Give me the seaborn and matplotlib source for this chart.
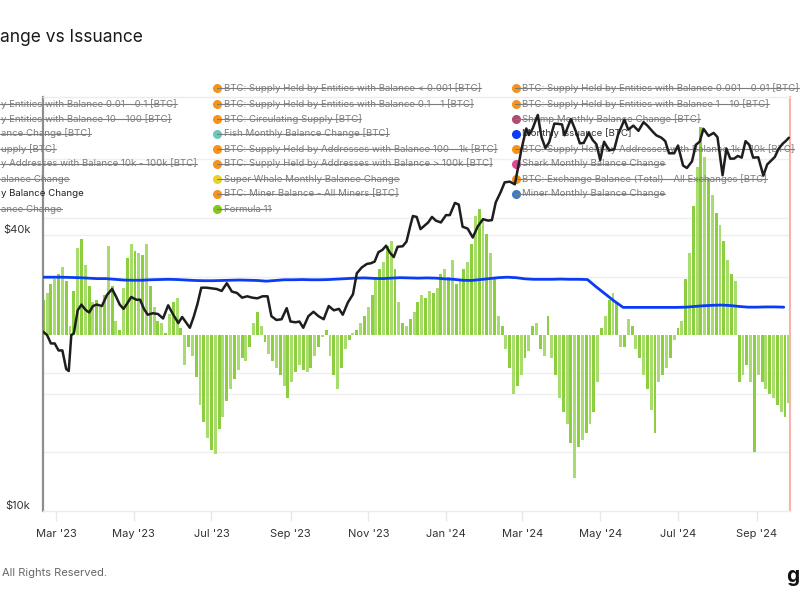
import numpy as np
import pandas as pd
import matplotlib
matplotlib.use("Agg")
import matplotlib.pyplot as plt
from matplotlib.lines import Line2D
from matplotlib.transforms import blended_transform_factory
import seaborn as sns

sns.set_theme(style="white")
plt.rcParams["font.family"] = ["Inter", "DejaVu Sans"]

# ---------------- data ----------------
price_dates = [
    "2023-02-19", "2023-02-22", "2023-02-25", "2023-02-28", "2023-03-03", "2023-03-06", "2023-03-09",
    "2023-03-11", "2023-03-13", "2023-03-15", "2023-03-18", "2023-03-21", "2023-03-24", "2023-03-27",
    "2023-03-30", "2023-04-02", "2023-04-06", "2023-04-10", "2023-04-14", "2023-04-17", "2023-04-20",
    "2023-04-23", "2023-04-26", "2023-04-29", "2023-05-03", "2023-05-06", "2023-05-09", "2023-05-12",
    "2023-05-16", "2023-05-20", "2023-05-24", "2023-05-28", "2023-06-01", "2023-06-05", "2023-06-08",
    "2023-06-11", "2023-06-14", "2023-06-17", "2023-06-20", "2023-06-23", "2023-06-27", "2023-07-01",
    "2023-07-05", "2023-07-09", "2023-07-13", "2023-07-17", "2023-07-21", "2023-07-25", "2023-07-29",
    "2023-08-02", "2023-08-06", "2023-08-10", "2023-08-14", "2023-08-17", "2023-08-21", "2023-08-25",
    "2023-08-29", "2023-09-01", "2023-09-05", "2023-09-08", "2023-09-11", "2023-09-15", "2023-09-19",
    "2023-09-23", "2023-09-27", "2023-10-01", "2023-10-05", "2023-10-09", "2023-10-12", "2023-10-16",
    "2023-10-20", "2023-10-23", "2023-10-27", "2023-10-31", "2023-11-03", "2023-11-06", "2023-11-09",
    "2023-11-12", "2023-11-15", "2023-11-18", "2023-11-21", "2023-11-24", "2023-11-28", "2023-12-01",
    "2023-12-04", "2023-12-06", "2023-12-09", "2023-12-12", "2023-12-15", "2023-12-18", "2023-12-21",
    "2023-12-24", "2023-12-28", "2024-01-01", "2024-01-04", "2024-01-08", "2024-01-11", "2024-01-14",
    "2024-01-18", "2024-01-22", "2024-01-26", "2024-01-30", "2024-02-03", "2024-02-06", "2024-02-09",
    "2024-02-13", "2024-02-16", "2024-02-20", "2024-02-24", "2024-02-27", "2024-02-29", "2024-03-04",
    "2024-03-06", "2024-03-09", "2024-03-13", "2024-03-16", "2024-03-19", "2024-03-22", "2024-03-26",
    "2024-03-29", "2024-04-01", "2024-04-03", "2024-04-08", "2024-04-12", "2024-04-15", "2024-04-18",
    "2024-04-22", "2024-04-25", "2024-04-28", "2024-05-01", "2024-05-04", "2024-05-08", "2024-05-12",
    "2024-05-15", "2024-05-20", "2024-05-23", "2024-05-27", "2024-05-31", "2024-06-04", "2024-06-07",
    "2024-06-11", "2024-06-14", "2024-06-18", "2024-06-21", "2024-06-24", "2024-06-28", "2024-07-01",
    "2024-07-05", "2024-07-08", "2024-07-12", "2024-07-15", "2024-07-18", "2024-07-21", "2024-07-25",
    "2024-07-29", "2024-08-01", "2024-08-05", "2024-08-08", "2024-08-11", "2024-08-14", "2024-08-17",
    "2024-08-20", "2024-08-23", "2024-08-26", "2024-08-29", "2024-09-02", "2024-09-06", "2024-09-09",
    "2024-09-12", "2024-09-15", "2024-09-18", "2024-09-21", "2024-09-24", "2024-09-26",
]
price_k = [
    24.6, 24.2, 23.2, 23.2, 22.4, 22.4, 20.4,
    20.2, 24.2, 24.4, 27.4, 28.2, 27.5, 27.1,
    28.0, 28.2, 28.0, 29.6, 30.5, 29.4, 28.2,
    27.6, 28.4, 29.3, 28.9, 28.9, 27.6, 26.8,
    27.0, 26.9, 26.3, 28.1, 26.8, 25.7, 26.5,
    25.8, 25.1, 26.5, 28.3, 30.7, 30.7, 30.6,
    30.5, 30.2, 31.4, 30.1, 29.9, 29.2, 29.4,
    29.2, 29.1, 29.4, 29.4, 26.6, 26.1, 26.2,
    27.7, 25.9, 25.8, 25.9, 25.1, 26.6, 27.2,
    26.6, 26.2, 28.0, 27.4, 27.6, 26.8, 28.5,
    29.7, 33.0, 34.0, 34.6, 34.7, 35.0, 36.7,
    37.1, 37.9, 36.6, 35.8, 37.7, 37.8, 38.7,
    41.9, 44.0, 43.8, 41.2, 41.9, 42.6, 43.8,
    43.0, 42.6, 44.2, 44.2, 47.0, 46.6, 41.7,
    41.3, 39.5, 41.8, 43.3, 43.0, 43.1, 47.1,
    49.7, 52.1, 52.3, 51.6, 57.0, 61.2, 68.3,
    66.1, 68.3, 73.1, 65.3, 61.9, 63.8, 70.0,
    69.9, 69.7, 66.0, 71.6, 67.2, 63.4, 63.5,
    66.8, 64.5, 63.1, 58.3, 63.9, 61.2, 61.5,
    66.2, 71.4, 67.9, 69.3, 67.5, 70.5, 69.3,
    67.3, 66.0, 65.2, 64.1, 60.3, 60.3, 62.7,
    56.7, 56.0, 57.9, 62.9, 63.9, 68.2, 65.8,
    66.8, 65.4, 54.0, 61.7, 58.7, 58.7, 59.5,
    59.0, 64.1, 62.9, 59.0, 59.1, 53.9, 57.0,
    58.1, 59.2, 61.7, 63.2, 64.3, 65.2,
]

# Monthly issuance (k BTC), one reading per week starting 2023-02-19
issue_start = "2023-02-19"
issue_k = [
    24.7, 24.7, 24.7, 24.6, 24.5, 24.3, 24.1, 24.1, 23.8, 23.5,
    23.4, 23.4, 23.6, 23.7, 23.8, 23.7, 23.5, 23.3, 23.2, 23.2,
    23.3, 23.4, 23.5, 23.4, 23.3, 23.0, 23.3, 23.6, 23.6, 23.7,
    23.6, 23.6, 23.7, 23.9, 24.1, 24.3, 24.4, 24.2, 24.1, 24.3,
    24.5, 24.4, 24.3, 24.4, 24.3, 24.0, 23.8, 23.4, 23.3, 23.7,
    24.1, 24.5, 24.7, 24.5, 24.0, 23.8, 23.8, 23.8, 23.9, 23.8,
    23.8, 23.7, 20.5, 17.5, 14.5, 11.8, 11.8, 11.8, 11.8, 11.8,
    11.8, 11.8, 11.9, 12.2, 12.5, 12.7, 12.8, 12.6, 12.2, 11.9,
    11.9, 12.0, 12.0, 11.9,
]

# Whale monthly balance change (k BTC), one bar every 3 days from 2023-02-19
bar_start = "2023-02-19"
whale_change_k = [
    15, 18, 22, 24, 26, 29, 23, 4, 19, 37, 41, 30, 21, 14, 15, 12, 17, 38, 21, 6,
    2, 20, 33, 39, 36, 35, 34, 39, 21, 12, 6, 5, 1, 9, 14, 16, 3, -13, -5, -9,
    -18, -30, -37, -44, -49, -51, -40, -35, -28, -23, -19, -15,
    -10, -11, -5, 5, 10, 4, -3, -8, -11, -14, -17, -22, -27, -20, -16, -13, -15, -16,
    -14, -9, -5, -1, 2, -9, -17, -23, -14, -6, -2, 1, 2, 5, 8, 12, 17, 25, 28, 31,
    38, 40, 28, 14, 5, 4, 7, 10, 14, 17, 16, 19, 18, 20,
    26, 28, 25, 32, 22, 24, 28, 31, 39, 51, 54, 50, 43, 35, 25, 8, 4, -6, -14, -25,
    -22, -17, -10, -7, 4, 5, -6, -9, 8, -10, -17, -27, -33, -38, -46, -61, -48, -45, -42, -38,
    -33, -20, 3, 8, 15, 18, 14, -5, -5, 7, 4, -6,
    -10, -17, -23, -32, -42, -20, -17, -14, -10, -2, 3, 6, 24, 35, 55, 72, 89, 76, 67, 60,
    52, 47, 40, 32, 26, 23, -20, -17, -13, -20, -50, -17, -20, -23, -25, -27, -30, -33, -35, -29,
]

x_tick_dates = ["2023-03-01", "2023-05-01", "2023-07-01", "2023-09-01", "2023-11-01",
                "2024-01-01", "2024-03-01", "2024-05-01", "2024-07-01", "2024-09-01"]
x_tick_labels = ["Mar '23", "May '23", "Jul '23", "Sep '23", "Nov '23",
                 "Jan '24", "Mar '24", "May '24", "Jul '24", "Sep '24"]
price_grid = [20000, 40000]
price_labels = {10000: "$10k", 40000: "$40k"}
btc_grid = [-50, -25, 25, 50, 75]

ORANGE = "#f7931a"
legend_col1 = [
    ("y Entities with Balance 0.01 - 0.1 [BTC]", True),
    ("y Entities with Balance 10 - 100 [BTC]", True),
    ("ance Change [BTC]", True),
    ("upply [BTC]", True),
    ("y Addresses with Balance 10k - 100k [BTC]", True),
    ("alance Change", True),
    ("y Balance Change", False),
    ("ance Change", True),
]
legend_col2 = [
    ("BTC: Supply Held by Entities with Balance < 0.001 [BTC]", ORANGE, True),
    ("BTC: Supply Held by Entities with Balance 0.1 - 1 [BTC]", ORANGE, True),
    ("BTC: Circulating Supply [BTC]", ORANGE, True),
    ("Fish Monthly Balance Change [BTC]", "#6cc8c2", True),
    ("BTC: Supply Held by Addresses with Balance 100 - 1k [BTC]", ORANGE, True),
    ("BTC: Supply Held by Addresses with Balance > 100k [BTC]", ORANGE, True),
    ("Super Whale Monthly Balance Change", "#e8d22a", True),
    ("BTC: Miner Balance - All Miners [BTC]", ORANGE, True),
    ("Formula 11", "#84c521", True),
]
legend_col3 = [
    ("BTC: Supply Held by Entities with Balance 0.001 - 0.01 [BTC]", ORANGE, True),
    ("BTC: Supply Held by Entities with Balance 1 - 10 [BTC]", ORANGE, True),
    ("Shrimp Monthly Balance Change [BTC]", "#b04a72", True),
    ("Monthly Issuance [BTC]", "#0a3cf5", False),
    ("BTC: Supply Held by Addresses with Balance 1k - 10k [BTC]", ORANGE, True),
    ("Shark Monthly Balance Change", "#e2449a", True),
    ("BTC: Exchange Balance (Total) - All Exchanges [BTC]", ORANGE, True),
    ("Miner Monthly Balance Change", "#3f7bc6", True),
]

# ---------------- figure ----------------
W, H = 800, 600
fig = plt.figure(figsize=(8, 6), dpi=100)
fig.patch.set_facecolor("white")
L, R, T, B = 43, 790, 97, 511
axb = fig.add_axes([L / W, 1 - B / H, (R - L) / W, (B - T) / H])
axp = axb.twinx()

bar_dates = pd.date_range(bar_start, periods=len(whale_change_k), freq="3D")
issue_dates = pd.date_range(issue_start, periods=len(issue_k), freq="7D")
pdates = pd.to_datetime(price_dates)

bar_cols = ["#8bcf40" if i % 2 == 0 else "#a8dc6c" for i in range(len(whale_change_k))]
axb.bar(bar_dates, whale_change_k, width=2.3, color=bar_cols, linewidth=0, zorder=2)

sns.lineplot(x=issue_dates, y=issue_k, ax=axb, color="#0b3cf5", linewidth=2.0, zorder=3)
sns.lineplot(x=pdates, y=np.array(price_k) * 1000, ax=axp, color="#1e1e1e", linewidth=1.8)

axp.set_yscale("log")
axp.set_ylim(10000, 80000)
axb.set_ylim(-75.2, 101.7)
x0 = pd.Timestamp("2023-03-01") - pd.Timedelta(days=10.2)
x1 = pd.Timestamp("2024-09-01") + pd.Timedelta(days=25.9)
axb.set_xlim(x0, x1)

for a in (axb, axp):
    a.set_xlabel("")
    a.set_ylabel("")
    a.grid(False)
    a.tick_params(axis="y", which="both", left=False, right=False, labelleft=False, labelright=False)
    for s in a.spines.values():
        s.set_visible(False)

# gridlines (behind bars)
for g in btc_grid:
    axb.axhline(g, color="#efefef", linewidth=1.0, zorder=0)
tr_price = blended_transform_factory(axb.transAxes, axp.transData)
for g in price_grid:
    axb.plot([0, 1], [g, g], transform=tr_price, color="#efefef", linewidth=1.0, zorder=0)

# frame lines
axb.spines["left"].set_visible(True)
axb.spines["left"].set_color("#8e8e8e")
axb.spines["left"].set_linewidth(1.6)
axb.spines["right"].set_visible(True)
axb.spines["right"].set_color("#f6b4ab")
axb.spines["right"].set_linewidth(1.5)
axb.spines["top"].set_visible(True)
axb.spines["top"].set_color("#ececec")
axb.spines["top"].set_linewidth(1.0)
axb.spines["bottom"].set_visible(True)
axb.spines["bottom"].set_color("#ececec")
axb.spines["bottom"].set_linewidth(1.0)

axb.set_xticks(pd.to_datetime(x_tick_dates))
axb.set_xticklabels(x_tick_labels)
axb.tick_params(axis="x", bottom=True, length=7, width=1, color="#e8e8e8", pad=6,
                labelsize=8, labelcolor="#333333")

tr_lab = blended_transform_factory(axp.transAxes, axp.transData)
for v, lab in price_labels.items():
    axp.annotate(lab, xy=(0, v), xycoords=tr_lab, xytext=(-9, 3.5), textcoords="offset points",
                 ha="right", va="center", fontsize=8, color="#333333", annotation_clip=False)

# title and footer
fig.text(0 / W, 1 - 38 / H, "ange vs Issuance", fontsize=12.5, color="#1a1a1a", ha="left", va="center")
fig.text(2 / W, 1 - 573 / H, "All Rights Reserved.", fontsize=8, color="#666666", ha="left", va="center")
fig.text(786 / W, 1 - 576 / H, "g", fontsize=15, fontweight="bold", color="#111111", ha="left", va="center")

# legend (drawn inside the bar axes so the price line stays on top)
rows = [88, 104, 119, 133.5, 149, 163.5, 179, 194, 209]
LFS = 6.95
GREY = "#7c7c7c"
struck = []


def put_text(x, y, s, color, strike):
    t = axb.text(x / W, 1 - y / H, s, transform=fig.transFigure, fontsize=LFS, color=color,
                 ha="left", va="center", zorder=5, clip_on=False)
    if strike:
        struck.append((t, color))
    return t


for (s, strike), y in zip(legend_col1, rows[1:]):
    put_text(1, y, s, GREY if strike else "#222222", strike)
for (s, c, strike), y in zip(legend_col2, rows):
    axb.plot([217 / W], [1 - y / H], "o", transform=fig.transFigure, color=c, markersize=5.5,
             clip_on=False, zorder=5)
    put_text(223.5, y, s, GREY if strike else "#333333", strike)
for (s, c, strike), y in zip(legend_col3, rows):
    axb.plot([516 / W], [1 - y / H], "o", transform=fig.transFigure, color=c, markersize=5.5,
             clip_on=False, zorder=5)
    put_text(522, y, s, GREY if strike else "#333333", strike)

fig.canvas.draw()
renderer = fig.canvas.get_renderer()
inv = fig.transFigure.inverted()
for t, c in struck:
    bb = t.get_window_extent(renderer)
    ym = bb.y0 + 0.47 * bb.height
    start = bb.x0 - 7 if t.get_position()[0] > 0.05 else 0
    (fx0, fy), (fx1, _) = inv.transform([(start, ym), (bb.x1, ym)])
    ln = Line2D([fx0, fx1], [fy, fy], transform=fig.transFigure, color=c, linewidth=0.8,
                zorder=5, clip_on=False)
    axb.add_artist(ln)

axb.set_xlim(x0, x1)
axb.set_ylim(-75.2, 101.7)
fig.savefig("out.png", dpi=100)
